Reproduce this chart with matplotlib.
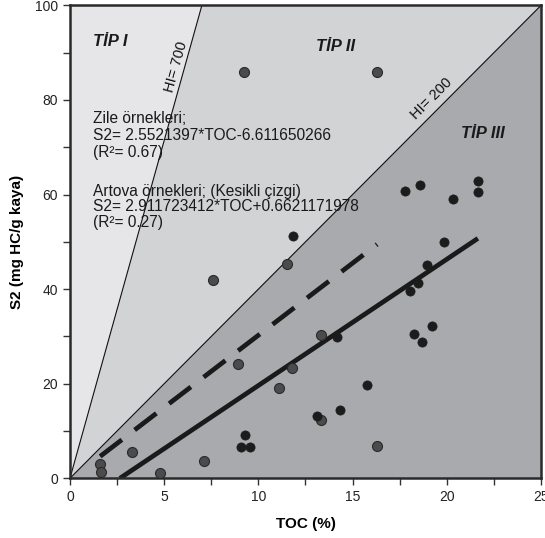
import numpy as np
import matplotlib
matplotlib.use("Agg")
import matplotlib.pyplot as plt

plt.rcParams['font.family'] = ['Liberation Sans', 'DejaVu Sans']

# samples (TOC %, S2 mg HC/g)
gray_toc = [1.59, 1.66, 3.28, 4.77, 7.09, 8.9, 7.59, 9.24, 16.31, 11.54, 13.31,
            11.79, 11.1, 13.33, 16.3]
gray_s2 = [3.1, 1.3, 5.5, 1.2, 3.6, 24.2, 41.9, 86.0, 86.0, 45.4, 30.3,
           23.3, 19.1, 12.4, 6.9]

black_toc = [9.27, 9.1, 9.57, 11.82, 14.16, 15.78, 14.35, 13.12, 17.77, 18.58,
             21.66, 21.66, 20.35, 19.86, 18.95, 18.46, 18.03, 19.2, 18.26, 18.69]
black_s2 = [9.15, 6.7, 6.6, 51.2, 29.9, 19.7, 14.4, 13.1, 60.7, 62.0,
            62.8, 60.6, 59.1, 50.0, 45.2, 41.3, 39.6, 32.1, 30.5, 28.8]

# HI boundary lines as drawn (slope in chart units)
hi_labels = ["HI= 700", "HI= 200"]
hi_slopes = [100 / 7.0, 4.0]

# fitted lines as drawn: slope, intercept, x start, x end
zile_fit = (2.67, -7.08, 2.65, 21.65)
artova_fit = (3.05, -0.25, 1.6, 16.3)

zone_labels = ["TİP I", "TİP II", "TİP III"]
zone_colors = ["#e6e6e8", "#d2d3d5", "#a9aaad"]

zile_txt = "Zile örnekleri;\nS2= 2.5521397*TOC-6.611650266\n(R²= 0.67)"
artova_txt = ("Artova örnekleri; (Kesikli çizgi)\n"
              "S2= 2.911723412*TOC+0.6621171978\n(R²= 0.27)")

xmax, ymax = 25, 100

fig = plt.figure(figsize=(5.45, 5.38), dpi=100)
ax = fig.add_axes([0.1284, 0.111, 0.8643, 0.879])

x7 = ymax / hi_slopes[0]
x2 = ymax / hi_slopes[1]
ax.fill([0, x7, 0], [0, ymax, ymax], color=zone_colors[0], lw=0, zorder=0)
ax.fill([0, x2, x7], [0, ymax, ymax], color=zone_colors[1], lw=0, zorder=0)
ax.fill([0, xmax, xmax, x2], [0, 0, ymax, ymax], color=zone_colors[2], lw=0, zorder=0)

for s in hi_slopes:
    ax.plot([0, ymax / s], [0, ymax], color='#111111', lw=0.8, zorder=1)

ax.text(5.65, 87.0, hi_labels[0], rotation=74.4, ha='center', va='center',
        fontsize=10.5, color='#111111')
ax.text(19.2, 80.3, hi_labels[1], rotation=45.1, ha='center', va='center',
        fontsize=10.5, color='#111111')

zone_pos = [(2.15, 92.4), (14.07, 91.3), (21.9, 73.0)]
for lab, (tx, ty) in zip(zone_labels, zone_pos):
    ax.text(tx, ty, lab, fontsize=12, fontweight='bold', fontstyle='italic',
            ha='center', va='center', color='#1a1a1a')

# fit lines
m, b, xa, xb = zile_fit
ax.plot([xa, xb], [m * xa + b, m * xb + b], color='#1a1a1a', lw=3.4,
        solid_capstyle='butt', zorder=2)
m, b, xa, xb = artova_fit
ax.plot([xa, xb], [m * xa + b, m * xb + b], color='#1a1a1a', lw=3.4,
        dashes=(5.8, 3.4), dash_capstyle='butt', zorder=2)

ax.scatter(gray_toc, gray_s2, s=52, color='#4b4b4d', edgecolor='#2a2a2a',
           linewidths=0.8, zorder=3)
ax.scatter(black_toc, black_s2, s=44, color='#1c1c1c', edgecolor='#1c1c1c',
           linewidths=0.5, zorder=3)

ax.text(1.2, 77.6, zile_txt, fontsize=11.2, va='top', ha='left', color='#1a1a1a',
        linespacing=1.16)
ax.text(1.2, 62.3, artova_txt, fontsize=11.2, va='top', ha='left', color='#1a1a1a',
        linespacing=1.06)

ax.set_xlim(0, xmax)
ax.set_ylim(0, ymax)
ax.set_xticks(np.arange(0, 26, 5))
ax.set_xticks(np.arange(0, 26, 2.5), minor=True)
ax.set_yticks(np.arange(0, 101, 20))
ax.set_yticks(np.arange(0, 101, 10), minor=True)
ax.tick_params(which='both', direction='out', length=5, width=1, color='#333333',
               labelsize=10, labelcolor='#222222')
for sp in ax.spines.values():
    sp.set_linewidth(1.8)
    sp.set_color('#2a2a2a')

ax.set_xlabel('TOC (%)', fontsize=11, fontweight='bold', labelpad=9)
ax.set_ylabel('S2 (mg HC/g kaya)', fontsize=11, fontweight='bold', labelpad=8)

fig.savefig('out.png', dpi=100)
